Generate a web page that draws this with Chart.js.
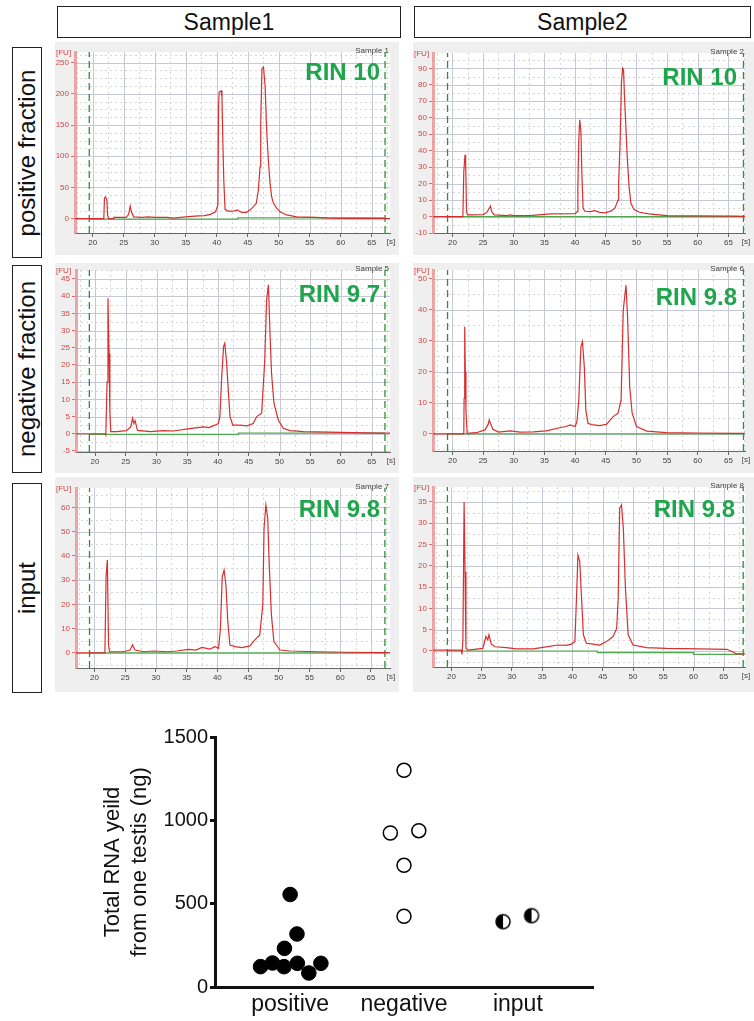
<!DOCTYPE html>
<html>
<head>
<meta charset="utf-8">
<script src="https://cdn.jsdelivr.net/npm/chart.js@4.4.1/dist/chart.umd.min.js"></script>
<style>
  html, body { margin: 0; padding: 0; }
  body { width: 754px; height: 1021px; position: relative; background: #fff; overflow: hidden;
         font-family: "Liberation Sans", Arial, sans-serif; color: #111; }
  .box { position: absolute; box-sizing: border-box; border: 1.5px solid #222;
         display: flex; align-items: center; justify-content: center; }
  .head { font-size: 23px; }
  .row span { display: inline-block; white-space: nowrap; font-size: 24px; transform: rotate(-90deg); }
  canvas { position: absolute; display: block; }
  canvas.trace { background: #efefef; }
</style>
</head>
<body>
<div class="box head" style="left:57px;top:6px;width:344px;height:32px;">Sample1</div>
<div class="box head" style="left:414px;top:6px;width:337px;height:32px;">Sample2</div>
<div class="box row" style="left:12px;top:47px;width:30px;height:211px;"><span>positive fraction</span></div>
<div class="box row" style="left:12px;top:265px;width:30px;height:208px;"><span>negative fraction</span></div>
<div class="box row" style="left:12px;top:483px;width:30px;height:210px;"><span>input</span></div>

<canvas id="p1" class="trace" width="344" height="213" style="left:55px;top:42px;"></canvas>
<canvas id="p2" class="trace" width="341" height="213" style="left:413px;top:42px;"></canvas>
<canvas id="p3" class="trace" width="344" height="210" style="left:55px;top:263px;"></canvas>
<canvas id="p4" class="trace" width="341" height="210" style="left:413px;top:263px;"></canvas>
<canvas id="p5" class="trace" width="344" height="215" style="left:55px;top:477px;"></canvas>
<canvas id="p6" class="trace" width="341" height="215" style="left:413px;top:477px;"></canvas>
<canvas id="yield" width="540" height="300" style="left:80px;top:720px;"></canvas>

<script>
// ---- Electropherogram traces: [time (s), fluorescence (FU)] ----
const s1PosTrace = [[17.1,0],[21.8,0],[21.9,33],[22.05,35],[22.3,30],[22.4,6],[22.55,0],[23.3,0],[23.4,2],[25.4,2],[25.8,7],[26.05,20],[26.25,11],[26.6,3],[28,2],[29,3],[30,2],[32,2],[33,1],[35,3],[36.5,4],[38,5],[39,7],[39.8,11],[40.2,22],[40.3,180],[40.4,203],[40.7,205],[40.85,195],[41.0,120],[41.15,60],[41.35,15],[41.8,12],[42.6,12],[43.3,14],[44,10],[44.8,10],[45.5,15],[46,20],[46.4,25],[46.72,46],[46.99,83],[47.1,153],[47.3,240],[47.55,243],[47.7,225],[47.8,214],[48.06,142],[48.33,94],[48.6,57],[48.87,35],[49.14,25],[49.68,17],[50.2,11],[51.3,6],[52.9,3],[56,2],[58,1],[61,0.5],[68.3,0.3]];
const s2PosTrace = [[16.8,0],[21.7,0],[21.85,27],[22.05,37.5],[22.15,33],[22.3,3],[22.45,1],[23,1],[25,1.2],[25.6,2.5],[26.0,5],[26.2,6.3],[26.4,3],[26.8,1],[29,0.6],[29.4,1],[30,0.5],[33,0.7],[36,1.6],[40,1.8],[40.35,3],[40.45,18],[40.6,46],[40.75,58.7],[40.95,52],[41.1,26],[41.3,5],[41.6,3.2],[42.5,3],[43.2,3.6],[44,2.5],[44.9,2.2],[45.9,3.4],[46.5,5.2],[47.0,10],[47.1,20],[47.35,47],[47.55,81],[47.75,90],[47.9,89],[48.05,73],[48.25,57],[48.5,36],[48.8,18],[49.1,8],[49.6,4.2],[50.5,2.6],[52,1.6],[55,0.6],[60,0.4],[66,0.2],[67.8,0.1]];
const s1NegTrace = [[16.9,0],[21.6,0],[21.75,-0.4],[21.95,15],[22.1,39.4],[22.2,30],[22.28,23.4],[22.4,6.9],[22.55,0.6],[23.5,0.6],[25.1,0.9],[25.8,2],[26.1,4.5],[26.3,3],[26.5,3.8],[26.9,1],[29,0.6],[31.1,0.9],[32.7,0.8],[35.4,1.5],[37.6,2],[38.5,1.8],[39.5,2.5],[40.05,3],[40.3,5],[40.6,16.6],[40.9,25.3],[41.1,26.3],[41.4,20.5],[41.7,11.7],[41.95,5],[42.4,2.5],[43.6,2.5],[44.7,2.3],[45.7,3],[46.3,5],[47.1,6],[47.6,21.4],[47.9,38.9],[48.2,43.3],[48.45,29.2],[48.7,17.6],[49.1,8.8],[49.8,4],[50.6,1.6],[51.7,0.9],[53.9,0.6],[60,0.4],[66,0.2],[68,0.2]];
const s2NegTrace = [[16.8,0],[21.85,0],[21.9,11.5],[22.0,34.6],[22.1,20],[22.2,7.7],[22.4,0.2],[23.9,0.4],[25.3,1.3],[25.8,3],[26.0,4.5],[26.2,3.4],[26.6,1.5],[27.5,0.6],[29.4,1],[31,0.6],[33.2,0.7],[35.3,1],[37.5,2],[38.5,2.4],[39.2,2.9],[40,2.4],[40.3,4],[40.6,11],[40.95,28.2],[41.2,29.8],[41.5,21.7],[41.75,7.7],[42.1,3.4],[43.0,2.9],[44.0,2.7],[45.1,3.1],[46.2,5.6],[47.0,6.7],[47.5,11],[47.85,40],[48.3,48],[48.55,37.8],[48.9,15.3],[49.3,6.7],[50.0,2.4],[51.7,0.9],[54.9,0.4],[60,0.3],[66,0.2],[67.8,0.2]];
const s1InTrace = [[17.0,0],[21.7,0],[21.9,32],[22.1,38.3],[22.3,3.3],[22.45,0.5],[24.7,0.5],[25.8,1.2],[26.2,3.3],[26.6,1.2],[28,0.5],[29.6,0.8],[31.8,0.5],[33.4,0.8],[35.3,1.5],[36.5,1.2],[37.5,2.3],[38.8,1.6],[39.6,2.6],[40.2,1.9],[40.5,10],[40.8,31.4],[41.1,34.2],[41.4,28],[41.7,12.9],[42.05,3.3],[42.9,2.6],[44.0,2.2],[45.3,2.9],[46.1,5.4],[46.9,7.4],[47.4,19.8],[47.6,51.3],[47.9,61],[48.2,55.5],[48.45,36.2],[48.8,15.7],[49.2,4.7],[50.2,1.2],[51.8,0.8],[56.2,0.5],[61,0.3],[68.1,0.1]];
const s2InTrace = [[16.96,0.2],[21.65,0.2],[21.75,-0.8],[21.9,2.6],[22.1,35],[22.25,18.6],[22.4,0.6],[22.75,0.2],[25.2,0.6],[25.7,3.4],[26.0,2.6],[26.2,3.8],[26.6,1.6],[27.2,1],[29.1,0.8],[30.7,0.5],[33.5,0.5],[35.4,0.9],[37.6,1.4],[39.0,1.3],[39.8,1.6],[40.4,2.2],[40.7,13.9],[40.9,22.5],[41.2,21],[41.5,12.4],[41.8,3.8],[42.3,1.8],[43.4,1.6],[44.5,1.4],[45.6,2.2],[46.7,3.4],[47.3,5.3],[47.55,12.4],[47.8,33.5],[48.1,34.3],[48.4,28.8],[48.75,14.7],[49.2,3.8],[50.0,1.4],[52.2,0.8],[55.5,0.6],[61,0.5],[65.5,0.4],[66.6,-0.3],[67.1,-0.7],[68.5,-0.7]];

// ---- Baselines (green) and analysis windows (dashed green), per run ----
const s1PosBase = [[19.45,-0.8],[43.4,-0.8],[43.4,1.2],[67.15,1.2]];
const s2PosBase = [[19.2,0],[67.45,0]];
const s1NegBase = [[19.07,-0.2],[43.3,-0.2],[43.3,0.2],[67.15,0.2]];
const s2NegBase = [[19.2,0],[67.45,0]];
const s1InBase = [[19.2,0],[67.27,0]];
const s2InBase = [[19.34,0],[44.1,0],[44.1,-0.4],[60,-0.4],[60,-0.8],[68.2,-0.8]];
const s1PosWindow = [19.45, 67.15];
const s2PosWindow = [19.2, 67.45];
const s1NegWindow = [19.07, 67.15];
const s2NegWindow = [19.2, 67.45];
const s1InWindow = [19.2, 67.27];
const s2InWindow = [19.34, 68.2];

// ---- Axis tick labels ----
const timeTicks = [20, 25, 30, 35, 40, 45, 50, 55, 60, 65];
const fuTicksS1Pos = [0, 50, 100, 150, 200, 250];
const fuTicksS2Pos = [-10, 0, 10, 20, 30, 40, 50, 60, 70, 80, 90];
const fuTicksS1Neg = [-5, 0, 5, 10, 15, 20, 25, 30, 35, 40, 45];
const fuTicksS2Neg = [0, 10, 20, 30, 40, 50];
const fuTicksS1In = [0, 10, 20, 30, 40, 50, 60];
const fuTicksS2In = [0, 5, 10, 15, 20, 25, 30, 35];

// ---- Run labels ----
const sampleNames = ['Sample 1', 'Sample 2', 'Sample 5', 'Sample 6', 'Sample 7', 'Sample 8'];
const rinLabels = ['RIN 10', 'RIN 10', 'RIN 9.7', 'RIN 9.8', 'RIN 9.8', 'RIN 9.8'];

// ---- Total RNA yield per testis (ng) ----
const yieldCategories = ['positive', 'negative', 'input'];
const yieldTicks = [0, 500, 1000, 1500];
const positiveYield = [555, 318, 232, 122, 144, 122, 142, 84, 142];
const positiveSpread = [0.0, 0.06, -0.05, -0.26, -0.155, -0.054, 0.063, 0.164, 0.27];
const negativeYield = [1300, 924, 938, 730, 424];
const negativeSpread = [0, -0.12, 0.13, 0, 0];
const inputYield = [392, 428];
const inputSpread = [-0.13, 0.12];

const FONT = '"Liberation Sans", Arial, sans-serif';
Chart.defaults.font.family = FONT;

function electropherogram(id, o) {
  const decor = {
    id: 'decor',
    beforeDraw(chart) {
      const { ctx, chartArea: a, scales: { x, y } } = chart;
      ctx.save();
      ctx.fillStyle = '#ffffff';
      ctx.fillRect(a.left, a.top, a.right - a.left, a.bottom - a.top);
      ctx.beginPath();
      ctx.rect(a.left, a.top, a.right - a.left, a.bottom - a.top);
      ctx.clip();
      const lines = (scale, from, to, step, horizontal) => {
        for (let v = Math.ceil(from / step) * step; v <= to; v += step) {
          const p = Math.round(scale.getPixelForValue(v)) + 0.5;
          ctx.beginPath();
          if (horizontal) { ctx.moveTo(a.left, p); ctx.lineTo(a.right, p); }
          else { ctx.moveTo(p, a.top); ctx.lineTo(p, a.bottom); }
          ctx.stroke();
        }
      };
      ctx.lineWidth = 1;
      ctx.strokeStyle = '#d6d6d6';
      ctx.setLineDash([2, 3]);
      lines(x, o.xMin, o.xMax, 2.5, false);
      lines(y, o.yMin, o.yMax, o.yMinor, true);
      ctx.setLineDash([]);
      ctx.strokeStyle = '#c6c9d5';
      lines(x, o.xMin, o.xMax, 5, false);
      lines(y, o.yMin, o.yMax, o.yStep, true);
      ctx.restore();
    },
    afterDraw(chart) {
      const { ctx, chartArea: a } = chart;
      ctx.save();
      ctx.font = '8px ' + FONT;
      ctx.textBaseline = 'middle';
      ctx.fillStyle = '#d64545';
      ctx.textAlign = 'left';
      ctx.fillText('[FU]', 1, a.top + 1);
      ctx.fillStyle = '#444';
      ctx.textAlign = 'right';
      ctx.fillText(o.name, a.right - 1, a.top - 1);
      ctx.textAlign = 'center';
      ctx.fillText('[s]', a.right + 1, a.bottom + 9);
      ctx.font = 'bold 24px ' + FONT;
      ctx.fillStyle = '#1fa64c';
      ctx.textAlign = 'right';
      ctx.fillText(o.rin, o.rinX, o.rinY);
      ctx.restore();
    }
  };
  const vline = (xv, c) => ({
    data: [[xv, o.yMin], [xv, o.yMax]], borderColor: c, borderWidth: 1.3,
    borderDash: [7, 4], pointRadius: 0
  });
  new Chart(document.getElementById(id), {
    type: 'line',
    data: {
      datasets: [
        { data: o.trace, borderColor: 'rgba(214,36,36,0.95)', borderWidth: 1.2, pointRadius: 0, tension: 0 },
        { data: o.base, borderColor: '#4fa94f', borderWidth: 1.2, pointRadius: 0, tension: 0 },
        vline(o.win[0], '#2f8f35'),
        vline(o.win[1], '#2f8f35')
      ]
    },
    options: {
      responsive: false, animation: false, devicePixelRatio: 1,
      layout: { padding: { top: o.padTop, right: o.padRight, left: 0, bottom: 0 } },
      plugins: { legend: { display: false }, tooltip: { enabled: false } },
      scales: {
        x: {
          type: 'linear', min: o.xMin, max: o.xMax,
          afterBuildTicks: s => { s.ticks = timeTicks.map(v => ({ value: v })); },
          afterFit: s => { s.height = o.xAxisH; },
          ticks: { font: { size: 8 }, color: '#444', padding: 1, maxRotation: 0, autoSkip: false, callback: v => String(v) },
          grid: { drawOnChartArea: false, drawTicks: true, tickLength: 4, tickColor: '#666' },
          border: { color: '#666', width: 1 }
        },
        y: {
          min: o.yMin, max: o.yMax,
          afterBuildTicks: s => { s.ticks = o.yTicks.map(v => ({ value: v })); },
          afterFit: s => { s.width = o.yAxisW; },
          ticks: { font: { size: 8 }, color: '#d64545', padding: 2, callback: v => String(v) },
          grid: { drawOnChartArea: false, drawTicks: true, tickLength: 4, tickColor: '#e06a6a' },
          border: { color: 'rgba(230,120,120,0.65)', width: 3 }
        }
      }
    },
    plugins: [decor]
  });
}

electropherogram('p1', { trace: s1PosTrace, base: s1PosBase, win: s1PosWindow, yTicks: fuTicksS1Pos,
  xMin: 17.15, xMax: 67.95, yMin: -22.9, yMax: 267, yStep: 50, yMinor: 12.5,
  padTop: 10, padRight: 9, xAxisH: 22, yAxisW: 20, name: sampleNames[0], rin: rinLabels[0], rinX: 325, rinY: 31 });
electropherogram('p2', { trace: s2PosTrace, base: s2PosBase, win: s2PosWindow, yTicks: fuTicksS2Pos,
  xMin: 16.83, xMax: 67.7, yMin: -10, yMax: 99.3, yStep: 10, yMinor: 5,
  padTop: 11, padRight: 9, xAxisH: 22, yAxisW: 20, name: sampleNames[1], rin: rinLabels[1], rinX: 324, rinY: 36 });
electropherogram('p3', { trace: s1NegTrace, base: s1NegBase, win: s1NegWindow, yTicks: fuTicksS1Neg,
  xMin: 16.9, xMax: 67.97, yMin: -5.3, yMax: 47.6, yStep: 5, yMinor: 2.5,
  padTop: 7, padRight: 9, xAxisH: 21, yAxisW: 21, name: sampleNames[2], rin: rinLabels[2], rinX: 325, rinY: 32 });
electropherogram('p4', { trace: s2NegTrace, base: s2NegBase, win: s2NegWindow, yTicks: fuTicksS2Neg,
  xMin: 16.83, xMax: 67.7, yMin: -5.5, yMax: 52.9, yStep: 10, yMinor: 5,
  padTop: 7, padRight: 9, xAxisH: 22, yAxisW: 20, name: sampleNames[3], rin: rinLabels[3], rinX: 324, rinY: 35 });
electropherogram('p5', { trace: s1InTrace, base: s1InBase, win: s1InWindow, yTicks: fuTicksS1In,
  xMin: 17.0, xMax: 68.1, yMin: -6.2, yMax: 68, yStep: 10, yMinor: 5,
  padTop: 11, padRight: 9, xAxisH: 24, yAxisW: 21, name: sampleNames[4], rin: rinLabels[4], rinX: 325, rinY: 33 });
electropherogram('p6', { trace: s2InTrace, base: s2InBase, win: s2InWindow, yTicks: fuTicksS2In,
  xMin: 16.96, xMax: 68.5, yMin: -3.76, yMax: 38.5, yStep: 5, yMinor: 2.5,
  padTop: 10, padRight: 9, xAxisH: 25, yAxisW: 20, name: sampleNames[5], rin: rinLabels[5], rinX: 322, rinY: 33 });

// Half-filled marker for the input samples
function halfDot(r) {
  const c = document.createElement('canvas');
  const s = 2 * r + 4;
  c.width = c.height = s;
  const g = c.getContext('2d');
  const m = s / 2;
  g.beginPath(); g.arc(m, m, r, 0, 2 * Math.PI); g.fillStyle = '#fff'; g.fill();
  g.beginPath(); g.moveTo(m, m - r); g.arc(m, m, r, -Math.PI / 2, Math.PI / 2, true); g.closePath();
  g.fillStyle = '#000'; g.fill();
  g.beginPath(); g.arc(m, m, r, 0, 2 * Math.PI); g.lineWidth = 1.5; g.strokeStyle = '#000'; g.stroke();
  return c;
}

new Chart(document.getElementById('yield'), {
  type: 'scatter',
  data: {
    datasets: [
      { data: positiveYield.map((v, i) => ({ x: 0 + positiveSpread[i], y: v })),
        pointRadius: 7.3, pointBackgroundColor: '#000', pointBorderColor: '#000', pointBorderWidth: 1 },
      { data: negativeYield.map((v, i) => ({ x: 1 + negativeSpread[i], y: v })),
        pointRadius: 7, pointBackgroundColor: '#fff', pointBorderColor: '#000', pointBorderWidth: 1.5 },
      { data: inputYield.map((v, i) => ({ x: 2 + inputSpread[i], y: v })),
        pointStyle: halfDot(7), pointRadius: 7 }
    ]
  },
  options: {
    responsive: false, animation: false, devicePixelRatio: 1, clip: false,
    layout: { padding: { top: 17, right: 27, left: 0, bottom: 0 } },
    plugins: { legend: { display: false }, tooltip: { enabled: false } },
    scales: {
      x: {
        type: 'linear', min: -0.66, max: 2.66,
        afterBuildTicks: s => { s.ticks = yieldCategories.map((c, i) => ({ value: i })); },
        afterFit: s => { s.height = 33; },
        ticks: { font: { size: 23 }, color: '#111', padding: -4, maxRotation: 0, autoSkip: false,
                 callback: v => yieldCategories[v] },
        grid: { display: false },
        border: { color: '#111', width: 3 }
      },
      y: {
        min: 0, max: 1500,
        afterBuildTicks: s => { s.ticks = yieldTicks.map(v => ({ value: v })); },
        afterFit: s => { s.width = 135; },
        ticks: { font: { size: 20 }, color: '#111', padding: 2, callback: v => String(v) },
        grid: { drawOnChartArea: false, drawTicks: true, tickLength: 5, tickWidth: 3, tickColor: '#111' },
        border: { color: '#111', width: 3 },
        title: { display: true, text: ['Total RNA yeild', 'from one testis (ng)'],
                 font: { size: 22 }, color: '#111', padding: { top: 20, bottom: 0 } }
      }
    }
  }
});
</script>
</body>
</html>
